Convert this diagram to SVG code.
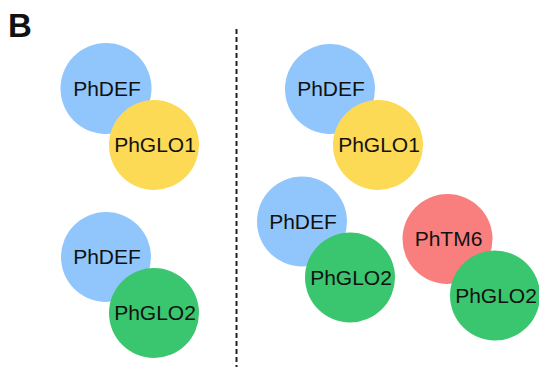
<svg xmlns="http://www.w3.org/2000/svg" width="539" height="369" viewBox="0 0 539 369">
<style>
.t{font-family:"Liberation Sans",Arial,sans-serif;font-size:21px;fill:#111;text-anchor:middle}
.def{fill:#90C6FC}.glo1{fill:#FDDA55}.glo2{fill:#3AC66F}.tm6{fill:#F97E7E}
</style>
<rect width="539" height="369" fill="#fff"/>
<text x="8" y="37" font-family="Liberation Sans,Arial,sans-serif" font-weight="bold" font-size="33" fill="#111">B</text>
<g id="connectors">
<line x1="236.5" y1="29" x2="236.5" y2="367" stroke="#222" stroke-width="2" stroke-dasharray="5,3"/>
</g>
<g id="def1"><circle class="def" cx="106" cy="88.5" r="45.5"/><text class="t" x="107" y="95.5">PhDEF</text></g>
<g id="glo1a"><circle class="glo1" cx="154" cy="145" r="45"/><text class="t" x="155" y="152">PhGLO1</text></g>
<g id="def2"><circle class="def" cx="106" cy="257" r="45"/><text class="t" x="107" y="264">PhDEF</text></g>
<g id="glo2a"><circle class="glo2" cx="154" cy="313" r="45"/><text class="t" x="155" y="320">PhGLO2</text></g>
<g id="def3"><circle class="def" cx="330" cy="89" r="45"/><text class="t" x="331" y="96">PhDEF</text></g>
<g id="glo1b"><circle class="glo1" cx="378" cy="145" r="45"/><text class="t" x="379" y="152">PhGLO1</text></g>
<g id="def4"><circle class="def" cx="302" cy="221.5" r="45"/><text class="t" x="303" y="228.5">PhDEF</text></g>
<g id="glo2b"><circle class="glo2" cx="350" cy="277.5" r="45"/><text class="t" x="351" y="284.5">PhGLO2</text></g>
<g id="tm6"><circle class="tm6" cx="447.5" cy="239" r="45"/><text class="t" x="448.5" y="246">PhTM6</text></g>
<g id="glo2c"><circle class="glo2" cx="495" cy="295.5" r="45"/><text class="t" x="496" y="302.5">PhGLO2</text></g>
</svg>
